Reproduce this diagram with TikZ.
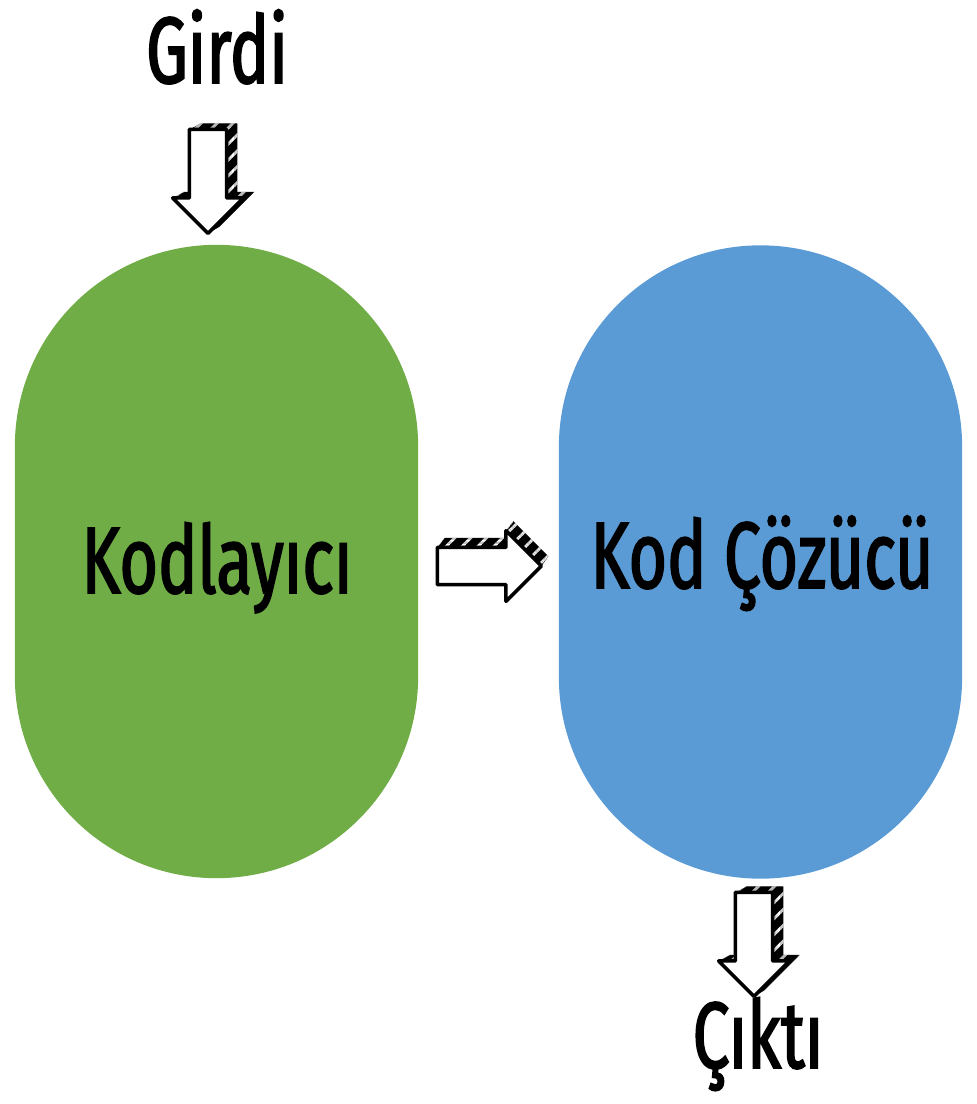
\documentclass[tikz,border=0pt]{standalone}
\usepackage{fontspec}
\setmainfont{Fira Sans}[FakeStretch=0.7, FakeBold=1.8]
\usetikzlibrary{shapes.misc,shapes.arrows}
\usetikzlibrary{patterns.meta}
\usetikzlibrary{backgrounds}

\definecolor{encgreen}{RGB}{112,173,71}
\definecolor{decblue}{RGB}{91,155,213}

\tikzset{
  capsule/.style={shape=rounded rectangle, rotate=90,
			minimum width=15.83cm, minimum height=10.08cm, inner sep=0pt},
  bigarrow/.style={shape=single arrow, draw=black, fill=white,
			line width=2.5pt, line join=round,
			minimum height=2.6cm, inner xsep=0pt, inner ysep=0.42cm,
			single arrow head extend=0.42cm},
  side3d/.style={draw=none, fill=black,
			postaction={pattern={Lines[angle=45,distance=8pt,line width=2pt]},
			pattern color=white}},
  lbl/.style={font=\fontsize{67}{70}\selectfont, anchor=base, inner sep=0pt}
}

\begin{document}
\begin{tikzpicture}[x=0.025cm, y=-0.025cm]
\useasboundingbox (0,0) rectangle (976,1104);

% NODES

\node(enc)[capsule, fill=encgreen]  at (216.5,561.5) {};
\node(dec)[capsule, fill=decblue]   at (760.5,562)   {};

\node(girdi)[lbl]    at (217,83)   {Girdi};
\node(enctext)[lbl]  at (217,593)  {Kodlayıcı};
\node(dectext)[lbl]  at (762,588)  {Kod Çözücü};
\node(cikti)[lbl]    at (758,1068) {Çıktı};

% ARROWS

\node(inarrow)[bigarrow, rotate=-90]  at (208,172) {};
\node(midarrow)[bigarrow]             at (480,566) {};
\node(outarrow)[bigarrow, rotate=-90] at (754,935) {};

% 3d sides of the arrows
\begin{scope}[on background layer]
\foreach \k in {12,...,1} {
  \node(inside\k)[bigarrow, side3d, rotate=-90]
      at ([shift={(0.9*\k,-0.5*\k)}]inarrow.center) {};
  \node(midside\k)[bigarrow, side3d]
      at ([shift={(0.6*\k,-0.8*\k)}]midarrow.center) {};
  \node(outside\k)[bigarrow, side3d, rotate=-90]
      at ([shift={(0.9*\k,-0.5*\k)}]outarrow.center) {};
}
\end{scope}

\end{tikzpicture}
\end{document}
